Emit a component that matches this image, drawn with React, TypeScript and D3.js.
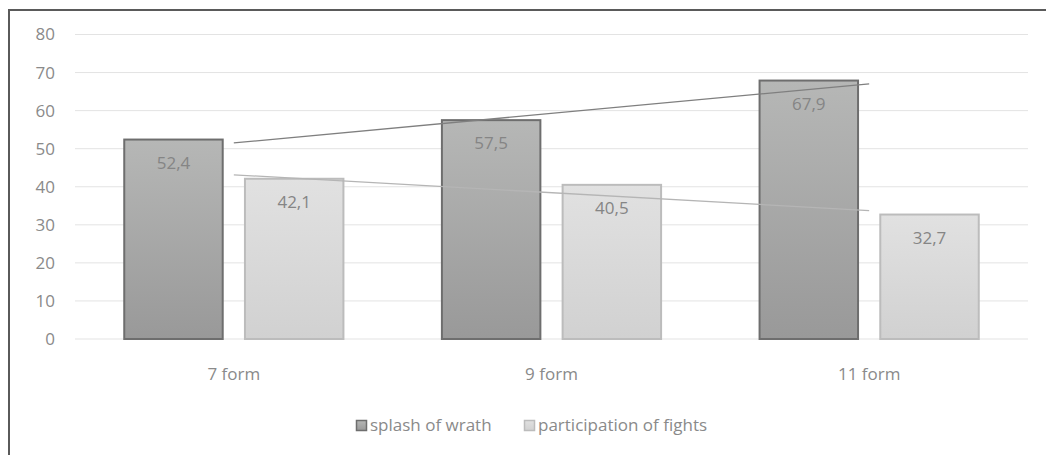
import React from "react";
import * as d3 from "d3";

const categories = ["7 form", "9 form", "11 form"];
const seriesNames = ["splash of wrath", "participation of fights"];
const wrath = [52.4, 57.5, 67.9];
const fights = [42.1, 40.5, 32.7];
const yTicks = [0, 10, 20, 30, 40, 50, 60, 70, 80];

const W = 1046;
const H = 455;
const font = "'Open Sans', sans-serif";
const fs = 17;

// least squares line through (1..n, v)
function trend(values: number[]) {
  const n = values.length;
  const xs = values.map((_, i) => i + 1);
  const mx = d3.mean(xs) as number;
  const my = d3.mean(values) as number;
  let num = 0;
  let den = 0;
  xs.forEach((x, i) => {
    num += (x - mx) * (values[i] - my);
    den += (x - mx) * (x - mx);
  });
  const slope = num / den;
  return [my + slope * (1 - mx), my + slope * (n - mx)];
}

export default function App() {
  const left = 75;
  const right = 1028;
  const top = 34.5;
  const bottom = 339;

  const x = d3.scaleBand().domain(categories).range([left, right]);
  const y = d3.scaleLinear().domain([0, 80]).range([bottom, top]);

  const bw = x.bandwidth();
  const barW = bw * 0.31;
  const gap = bw * 0.07;

  const series = [
    { name: seriesNames[0], values: wrath, fill: "url(#gDark)", stroke: "#6e6e6e", trendColor: "#7f7f7f" },
    { name: seriesNames[1], values: fights, fill: "url(#gLight)", stroke: "#bcbcbc", trendColor: "#b5b5b5" },
  ];

  const barX = (cat: string, si: number) => {
    const c = (x(cat) as number) + bw / 2;
    return si === 0 ? c - gap / 2 - barW : c + gap / 2;
  };

  const c0 = (x(categories[0]) as number) + bw / 2;
  const c1 = (x(categories[categories.length - 1]) as number) + bw / 2;

  const legendX = [356, 524];

  return (
    <svg width={W} height={H} style={{ position: "absolute", left: 0, top: 0, background: "#fff" }}>
      <defs>
        <linearGradient id="gDark" x1="0" y1="0" x2="0" y2="1">
          <stop offset="0" stopColor="#b6b7b6" />
          <stop offset="1" stopColor="#999999" />
        </linearGradient>
        <linearGradient id="gLight" x1="0" y1="0" x2="0" y2="1">
          <stop offset="0" stopColor="#e1e1e1" />
          <stop offset="1" stopColor="#d1d1d1" />
        </linearGradient>
      </defs>
      <rect x={0} y={0} width={W} height={H} fill="#fff" />
      <rect x={9} y={10} width={W + 50} height={H + 50} fill="none" stroke="#5a5a5a" strokeWidth={2} />

      {/* gridlines */}
      {yTicks.map((t) => (
        <g key={t}>
          <line x1={left} x2={right} y1={y(t)} y2={y(t)} stroke="#e3e3e3" strokeWidth={1} />
          <text x={55} y={y(t)} dy="0.35em" textAnchor="end" fontFamily={font} fontSize={fs} fill="#8a8a8a">
            {t}
          </text>
        </g>
      ))}

      {/* bars */}
      {series.map((s, si) =>
        s.values.map((v, i) => (
          <rect
            key={si + "-" + i}
            x={barX(categories[i], si)}
            y={y(v)}
            width={barW}
            height={y(0) - y(v)}
            fill={s.fill}
            stroke={s.stroke}
            strokeWidth={2}
          />
        ))
      )}

      {/* trend lines */}
      {series.map((s, si) => {
        const [a, b] = trend(s.values);
        return (
          <line key={"t" + si} x1={c0} x2={c1} y1={y(a)} y2={y(b)} stroke={s.trendColor} strokeWidth={1.3} />
        );
      })}

      {/* value labels */}
      {series.map((s, si) =>
        s.values.map((v, i) => (
          <text
            key={"l" + si + "-" + i}
            x={barX(categories[i], si) + barW / 2}
            y={y(v) + 29}
            textAnchor="middle"
            fontFamily={font}
            fontSize={fs}
            fill="#858585"
          >
            {v.toFixed(1).replace(".", ",")}
          </text>
        ))
      )}

      {/* category labels */}
      {categories.map((c) => (
        <text
          key={c}
          x={(x(c) as number) + bw / 2}
          y={374}
          dy="0.35em"
          textAnchor="middle"
          fontFamily={font}
          fontSize={fs}
          fill="#8a8a8a"
        >
          {c}
        </text>
      ))}

      {/* legend */}
      {series.map((s, si) => (
        <g key={"lg" + si} transform={`translate(${legendX[si]},420)`}>
          <rect x={0.5} y={0.5} width={10} height={10} fill={s.fill} stroke={s.stroke} strokeWidth={1.5} />
          <text x={14} y={5.5} dy="0.35em" fontFamily={font} fontSize={fs} fill="#8a8a8a">
            {s.name}
          </text>
        </g>
      ))}
    </svg>
  );
}
